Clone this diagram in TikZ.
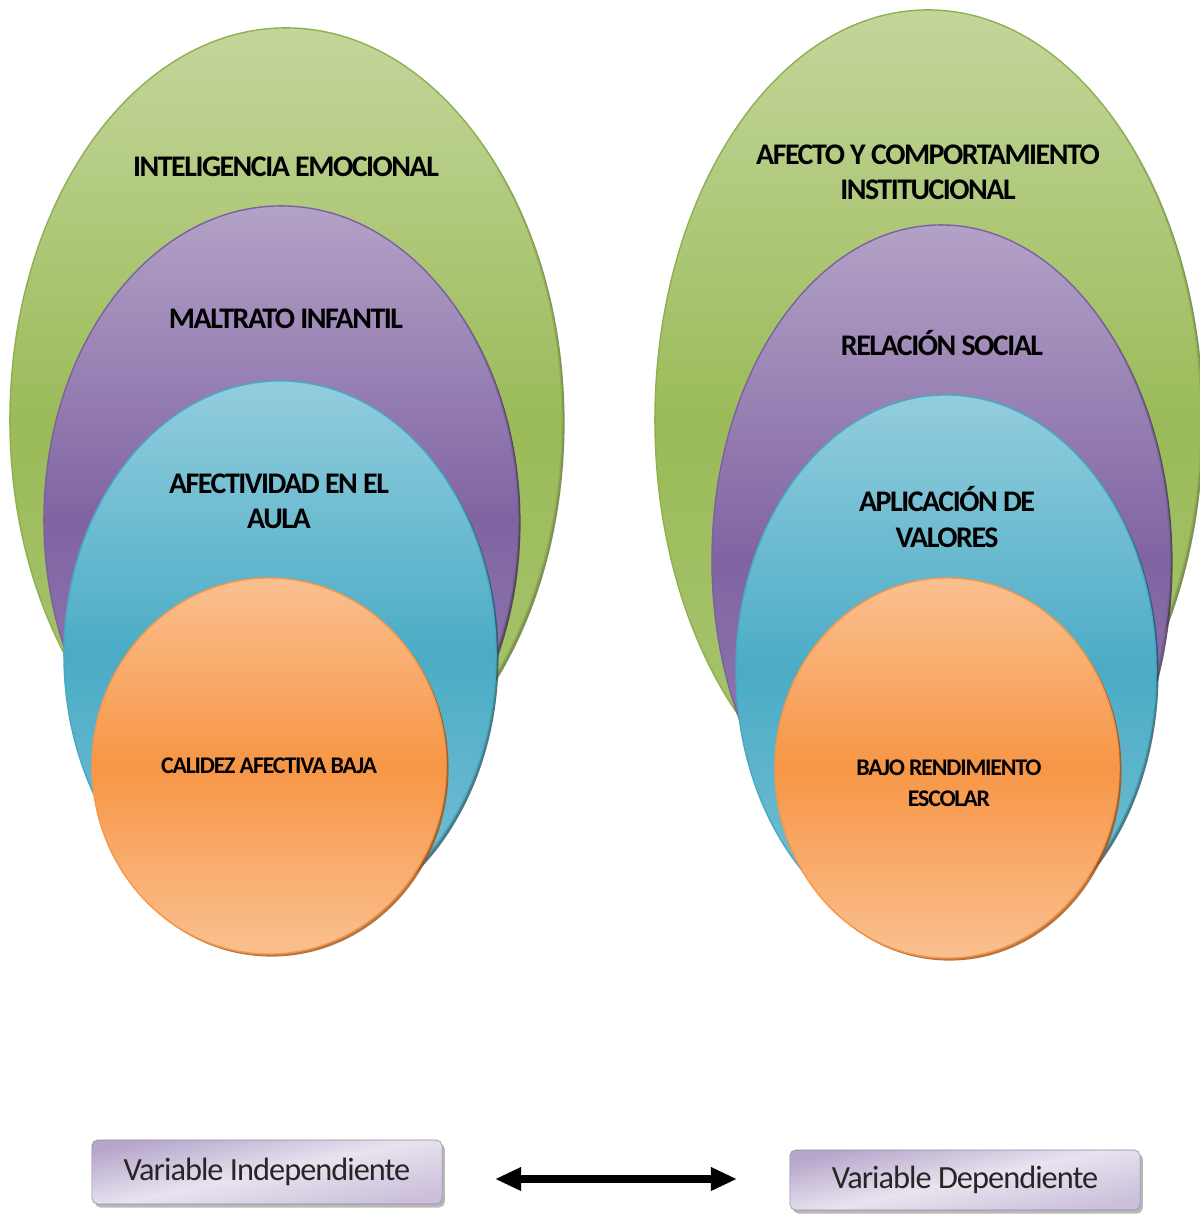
\documentclass[tikz,border=0pt]{standalone}
\usepackage{fontspec}
\usepackage{tikz}
\usetikzlibrary{shapes.geometric,shadows,arrows.meta}
\newfontfamily\lblfont[LetterSpace=-5]{Carlito}
\newfontfamily\boxfont[LetterSpace=-3]{Carlito}

\definecolor{grnTop}{HTML}{C3D69B}
\definecolor{grnMid}{HTML}{9BBB59}
\definecolor{grnBot}{HTML}{A9C672}
\definecolor{grnEdge}{HTML}{8FB050}
\definecolor{grnShd}{HTML}{5F7530}
\definecolor{purTop}{HTML}{B3A2C7}
\definecolor{purMid}{HTML}{8064A2}
\definecolor{purBot}{HTML}{9A85B8}
\definecolor{purEdge}{HTML}{7D60A0}
\definecolor{purShd}{HTML}{3F3151}
\definecolor{bluTop}{HTML}{93CDDD}
\definecolor{bluMid}{HTML}{4BACC6}
\definecolor{bluBot}{HTML}{7CC2D6}
\definecolor{bluEdge}{HTML}{46AAC5}
\definecolor{bluShd}{HTML}{205867}
\definecolor{orgTop}{HTML}{FAC090}
\definecolor{orgMid}{HTML}{F79646}
\definecolor{orgEdge}{HTML}{F79646}
\definecolor{orgShd}{HTML}{A65210}
\definecolor{boxTop}{HTML}{B6A6CB}
\definecolor{boxMid}{HTML}{E8E3EF}
\definecolor{boxBot}{HTML}{CBBFDA}

\begin{document}
\begin{tikzpicture}[x=0.025cm,y=-0.025cm,
    ring_node/.style n args={3}{ellipse,inner sep=0pt,line width=1pt,
        top color=#1Top,bottom color=#2,middle color=#1Mid,draw=#1Edge,
        drop shadow={shadow xshift=1.8pt,shadow yshift=-1.8pt,fill=#1Shd,opacity=0.8},
        minimum width=#3},
    label_node/.style={font=\lblfont\bfseries\fontsize{21.3}{25}\selectfont,align=center,text=black},
    small_label/.style={font=\lblfont\bfseries\fontsize{17}{22}\selectfont,align=center,text=black},
    var_box/.style={rectangle,rounded corners=4pt,minimum width=8.75cm,
        top color=boxTop,bottom color=boxBot,middle color=boxMid,shading angle=12,
        draw=boxTop!80!black,line width=0.4pt,
        drop shadow={shadow xshift=2pt,shadow yshift=-2.5pt,fill=black!35,opacity=0.8},
        font=\boxfont\fontsize{23}{26}\selectfont,text=black!85}]

    \useasboundingbox (0,0) rectangle (1200,1216);

    % variable independiente
    \node[ring_node={grn}{grnBot}{13.8cm},minimum height=19.6cm] (ie) at (286,420) {};
    \node[ring_node={pur}{purBot}{11.85cm},minimum height=15.7cm] (mi) at (281,520) {};
    \node[ring_node={blu}{bluBot}{10.8cm},minimum height=13.7cm] (aa) at (280,655) {};
    \node[ring_node={org}{orgTop}{8.85cm},minimum height=9.4cm] (cab) at (269,766) {};

    \node[label_node] (ie_lbl) at (286,167) {INTELIGENCIA EMOCIONAL};
    \node[label_node] (mi_lbl) at (286,319) {MALTRATO INFANTIL};
    \node[label_node] (aa_lbl) at (279,501) {AFECTIVIDAD EN EL\\AULA};
    \node[small_label] (cab_lbl) at (269,766) {CALIDEZ AFECTIVA BAJA};

    % variable dependiente
    \node[ring_node={grn}{grnBot}{13.65cm},minimum height=20.5cm] (aci) at (928,420) {};
    \node[ring_node={pur}{purBot}{11.45cm},minimum height=16.75cm] (rs) at (941,560) {};
    \node[ring_node={blu}{bluBot}{10.5cm},minimum height=13.75cm] (av) at (946,670) {};
    \node[ring_node={org}{orgTop}{8.6cm},minimum height=9.5cm] (bre) at (947,768) {};

    \node[label_node] (aci_lbl) at (928,172) {AFECTO Y COMPORTAMIENTO\\INSTITUCIONAL};
    \node[label_node] (rs_lbl) at (942,343) {RELACIÓN SOCIAL};
    \node[label_node] (av_lbl) at (947,517) {APLICACIÓN DE\\VALORES};
    \node[small_label] (bre_lbl) at (949,783) {BAJO RENDIMIENTO\\ESCOLAR};

    \node[var_box,minimum height=1.6cm] (vi) at (267,1172) {Variable Independiente};
    \node[var_box,minimum height=1.5cm] (vd) at (965,1180) {Variable Dependiente};

    \coordinate (a1) at (495,1179);
    \coordinate (a2) at (737,1179);
    \begin{scope}[every path/.style={{Triangle[length=18.5pt,width=15.6pt]}-{Triangle[length=18.5pt,width=15.6pt]},line width=5pt}]
    \draw (a1) -- (a2);
    \end{scope}
\end{tikzpicture}
\end{document}
